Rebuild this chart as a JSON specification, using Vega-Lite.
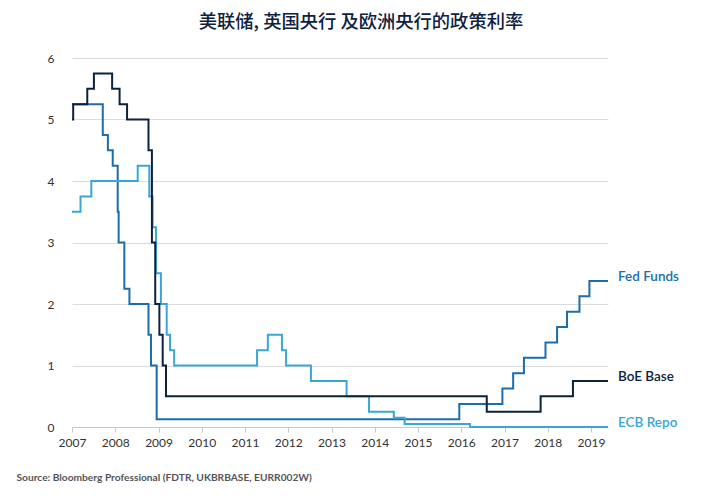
{
  "$schema": "https://vega.github.io/schema/vega-lite/v6.json",
  "width": 536,
  "height": 369,
  "autosize": {"type": "none"},
  "padding": {"left": 72, "top": 58, "right": 112, "bottom": 73},
  "background": "white",
  "title": {
    "text": "美联储, 英国央行 及欧洲央行的政策利率",
    "font": "Noto Sans CJK SC",
    "fontSize": 18.3,
    "fontWeight": 500,
    "color": "#0d2240",
    "anchor": "middle",
    "dx": 21,
    "baseline": "bottom",
    "offset": 2
  },
  "config": {
    "view": {"stroke": null},
    "axis": {"labelFont": "Lato", "labelFontSize": 12, "labelColor": "#333333"}
  },
  "data": {
    "values": [
      {"series": "Fed Funds", "date": "2007-01-01", "value": 5.25},
      {"series": "Fed Funds", "date": "2007-09-18", "value": 4.75},
      {"series": "Fed Funds", "date": "2007-10-31", "value": 4.5},
      {"series": "Fed Funds", "date": "2007-12-11", "value": 4.25},
      {"series": "Fed Funds", "date": "2008-01-22", "value": 3.5},
      {"series": "Fed Funds", "date": "2008-01-30", "value": 3.0},
      {"series": "Fed Funds", "date": "2008-03-18", "value": 2.25},
      {"series": "Fed Funds", "date": "2008-04-30", "value": 2.0},
      {"series": "Fed Funds", "date": "2008-10-08", "value": 1.5},
      {"series": "Fed Funds", "date": "2008-10-29", "value": 1.0},
      {"series": "Fed Funds", "date": "2008-12-16", "value": 0.125},
      {"series": "Fed Funds", "date": "2015-12-16", "value": 0.375},
      {"series": "Fed Funds", "date": "2016-12-14", "value": 0.625},
      {"series": "Fed Funds", "date": "2017-03-15", "value": 0.875},
      {"series": "Fed Funds", "date": "2017-06-14", "value": 1.125},
      {"series": "Fed Funds", "date": "2017-12-13", "value": 1.375},
      {"series": "Fed Funds", "date": "2018-03-21", "value": 1.625},
      {"series": "Fed Funds", "date": "2018-06-13", "value": 1.875},
      {"series": "Fed Funds", "date": "2018-09-26", "value": 2.125},
      {"series": "Fed Funds", "date": "2018-12-19", "value": 2.375},
      {"series": "Fed Funds", "date": "2019-05-25", "value": 2.375},
      {"series": "ECB Repo", "date": "2007-01-01", "value": 3.5},
      {"series": "ECB Repo", "date": "2007-03-14", "value": 3.75},
      {"series": "ECB Repo", "date": "2007-06-13", "value": 4.0},
      {"series": "ECB Repo", "date": "2008-07-09", "value": 4.25},
      {"series": "ECB Repo", "date": "2008-10-15", "value": 3.75},
      {"series": "ECB Repo", "date": "2008-11-12", "value": 3.25},
      {"series": "ECB Repo", "date": "2008-12-10", "value": 2.5},
      {"series": "ECB Repo", "date": "2009-01-21", "value": 2.0},
      {"series": "ECB Repo", "date": "2009-03-11", "value": 1.5},
      {"series": "ECB Repo", "date": "2009-04-08", "value": 1.25},
      {"series": "ECB Repo", "date": "2009-05-13", "value": 1.0},
      {"series": "ECB Repo", "date": "2011-04-13", "value": 1.25},
      {"series": "ECB Repo", "date": "2011-07-13", "value": 1.5},
      {"series": "ECB Repo", "date": "2011-11-09", "value": 1.25},
      {"series": "ECB Repo", "date": "2011-12-14", "value": 1.0},
      {"series": "ECB Repo", "date": "2012-07-11", "value": 0.75},
      {"series": "ECB Repo", "date": "2013-05-08", "value": 0.5},
      {"series": "ECB Repo", "date": "2013-11-13", "value": 0.25},
      {"series": "ECB Repo", "date": "2014-06-11", "value": 0.15},
      {"series": "ECB Repo", "date": "2014-09-10", "value": 0.05},
      {"series": "ECB Repo", "date": "2016-03-16", "value": 0.0},
      {"series": "ECB Repo", "date": "2019-05-25", "value": 0.0},
      {"series": "BoE Base", "date": "2007-01-01", "value": 5.0},
      {"series": "BoE Base", "date": "2007-01-11", "value": 5.25},
      {"series": "BoE Base", "date": "2007-05-10", "value": 5.5},
      {"series": "BoE Base", "date": "2007-07-05", "value": 5.75},
      {"series": "BoE Base", "date": "2007-12-06", "value": 5.5},
      {"series": "BoE Base", "date": "2008-02-07", "value": 5.25},
      {"series": "BoE Base", "date": "2008-04-10", "value": 5.0},
      {"series": "BoE Base", "date": "2008-10-08", "value": 4.5},
      {"series": "BoE Base", "date": "2008-11-06", "value": 3.0},
      {"series": "BoE Base", "date": "2008-12-04", "value": 2.0},
      {"series": "BoE Base", "date": "2009-01-08", "value": 1.5},
      {"series": "BoE Base", "date": "2009-02-05", "value": 1.0},
      {"series": "BoE Base", "date": "2009-03-05", "value": 0.5},
      {"series": "BoE Base", "date": "2016-08-04", "value": 0.25},
      {"series": "BoE Base", "date": "2017-11-02", "value": 0.5},
      {"series": "BoE Base", "date": "2018-08-02", "value": 0.75},
      {"series": "BoE Base", "date": "2019-05-25", "value": 0.75}
    ],
    "format": {"parse": {"date": "date"}}
  },
  "encoding": {
    "x": {
      "field": "date",
      "type": "temporal",
      "scale": {
        "type": "utc",
        "domain": [
          {"year": 2007, "month": 1, "date": 1, "utc": true},
          {"year": 2019, "month": 5, "date": 25, "utc": true}
        ]
      },
      "axis": {
        "format": "%Y",
        "tickCount": {"interval": "year", "step": 1},
        "grid": false,
        "domainColor": "#c8c8c8",
        "tickColor": "#c8c8c8",
        "tickSize": 5,
        "labelPadding": 5,
        "labelFlush": false,
        "title": "Source: Bloomberg Professional (FDTR, UKBRBASE, EURR002W)",
        "titleFont": "Lato",
        "titleFontSize": 10.2,
        "titleFontWeight": 700,
        "titleColor": "#555555",
        "titleAnchor": "start",
        "titleAlign": "left",
        "titleBaseline": "middle",
        "titleX": -56,
        "titleY": 50
      }
    },
    "y": {
      "field": "value",
      "type": "quantitative",
      "scale": {"domain": [0, 6], "nice": false},
      "axis": {
        "title": null,
        "values": [0, 1, 2, 3, 4, 5, 6],
        "domain": false,
        "ticks": false,
        "labelPadding": 18,
        "gridColor": "#dcdcdc",
        "gridWidth": 1
      }
    },
    "color": {
      "field": "series",
      "type": "nominal",
      "scale": {
        "domain": ["Fed Funds", "BoE Base", "ECB Repo"],
        "range": ["#1b6dad", "#0d2240", "#3aa6d8"]
      },
      "legend": null
    }
  },
  "layer": [
    {
      "mark": {"type": "line", "interpolate": "step-after", "strokeWidth": 2},
      "encoding": {"detail": {"field": "series"}}
    },
    {
      "transform": [{"filter": "utcyear(datum.date) == 2019"}],
      "mark": {
        "type": "text",
        "align": "left",
        "baseline": "middle",
        "dx": 10,
        "dy": -4,
        "font": "Lato",
        "fontSize": 13.5,
        "fontWeight": 600
      },
      "encoding": {"text": {"field": "series"}}
    }
  ]
}
